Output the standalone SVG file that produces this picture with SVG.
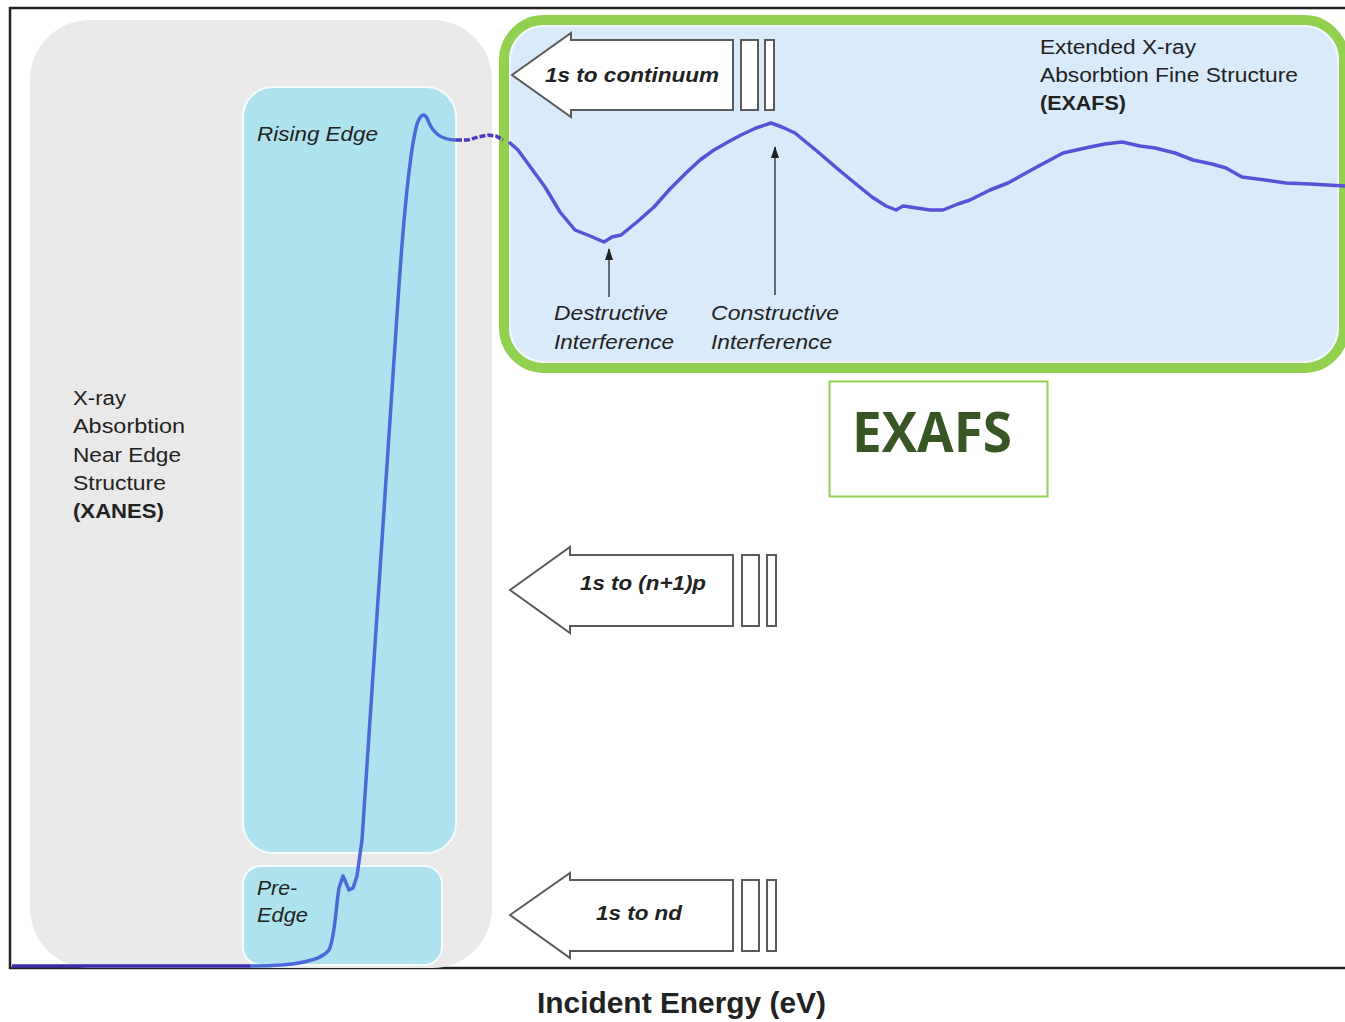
<svg xmlns="http://www.w3.org/2000/svg" width="1345" height="1022" viewBox="0 0 1345 1022">
<style>
.t{font-family:"Liberation Sans",Arial,sans-serif;font-size:20px;fill:#222}
.b{font-weight:bold}
.i{font-style:italic}
.arrow{fill:#fff;stroke:#5a5a5a;stroke-width:2}
.bar{fill:#fff;stroke:#5a5a5a;stroke-width:2}
.ptr{stroke:#222;stroke-width:1.3;fill:none}
</style>
<defs>
<marker id="ah" viewBox="0 0 12 8" refX="11" refY="4" markerWidth="12" markerHeight="8" markerUnits="userSpaceOnUse" orient="auto">
<path d="M0,0 L12,4 L0,8 Z" fill="#222"/>
</marker>
</defs>
<rect width="1345" height="1022" fill="#fff"/>
<g id="frame">
<path d="M1345,8 L10,8 L10,968 L1345,968" fill="none" stroke="#222" stroke-width="2.5"/>
</g>
<g id="xanes-region">
<rect x="30" y="20" width="462" height="948" rx="60" fill="#e9e9e9"/>
<text class="t" x="73" y="405" textLength="53" lengthAdjust="spacingAndGlyphs">X-ray</text>
<text class="t" x="73" y="433" textLength="112" lengthAdjust="spacingAndGlyphs">Absorbtion</text>
<text class="t" x="73" y="462" textLength="108" lengthAdjust="spacingAndGlyphs">Near Edge</text>
<text class="t" x="73" y="490" textLength="93" lengthAdjust="spacingAndGlyphs">Structure</text>
<text class="t b" x="73" y="518" textLength="91" lengthAdjust="spacingAndGlyphs">(XANES)</text>
</g>
<g id="rising-edge">
<rect x="243" y="87" width="213" height="766" rx="30" fill="#ade2ee" stroke="#f4fbfd" stroke-width="2"/>
<text class="t i" x="257" y="141" textLength="121" lengthAdjust="spacingAndGlyphs">Rising Edge</text>
</g>
<g id="pre-edge">
<rect x="243" y="866" width="199" height="99" rx="18" fill="#ade2ee" stroke="#f4fbfd" stroke-width="2"/>
<text class="t i" x="257" y="895" textLength="40" lengthAdjust="spacingAndGlyphs">Pre-</text>
<text class="t i" x="257" y="922" textLength="51" lengthAdjust="spacingAndGlyphs">Edge</text>
</g>
<g id="exafs-region">
<rect x="504" y="20" width="840" height="348" rx="40" fill="#d9eafa" stroke="#92d050" stroke-width="10"/>
<rect x="510" y="26" width="828" height="336" rx="34" fill="none" stroke="#f2f8fd" stroke-width="2"/>
<text class="t" x="1040" y="54" textLength="156" lengthAdjust="spacingAndGlyphs">Extended X-ray</text>
<text class="t" x="1040" y="82" textLength="258" lengthAdjust="spacingAndGlyphs">Absorbtion Fine Structure</text>
<text class="t b" x="1040" y="110" textLength="86" lengthAdjust="spacingAndGlyphs">(EXAFS)</text>
<text class="t i" x="554" y="320" textLength="114" lengthAdjust="spacingAndGlyphs">Destructive</text>
<text class="t i" x="554" y="349" textLength="120" lengthAdjust="spacingAndGlyphs">Interference</text>
<text class="t i" x="711" y="320" textLength="128" lengthAdjust="spacingAndGlyphs">Constructive</text>
<text class="t i" x="711" y="349" textLength="121" lengthAdjust="spacingAndGlyphs">Interference</text>
</g>
<g id="curves">
<path d="M12,966 L250,966" fill="none" stroke="#3b2ea8" stroke-width="3.5"/>
<path d="M250,966 C292,966 320,962 329,950 C335,938 336,905 339,888 L343,876 L349,890 L353,888 L357,876 L362,840 L398,300 C404,210 410,150 417,124 Q422,110 427,118 C432,132 440,140 456,140" fill="none" stroke="#4a6ad8" stroke-width="3.5" stroke-linejoin="round"/>
<path d="M456,140 L468,140 L478,137 L488,135 L496,136 L503,140" fill="none" stroke="#4b3cc0" stroke-width="3.5" stroke-dasharray="6,2"/>
<path d="M509,142 L518,150 L545,187 L560,212 L575,230 L590,236 L604,242 L612,237 L621,235 L637,222 L654,207 L670,189 L686,173 L700,160 L714,150 L728,142 L741,135 L756,128 L771,123 L782,127 L795,133 L818,152 L839,170 L856,184 L872,197 L886,206 L896,210 L903,206 L910,207 L930,210 L943,210 L958,204 L970,200 L990,190 L1008,183 L1035,168 L1063,153 L1090,147 L1105,144 L1122,142 L1140,146 L1155,148 L1175,153 L1193,160 L1212,164 L1226,168 L1242,177 L1265,180 L1286,183 L1310,184 L1345,186" fill="none" stroke="#5a52d6" stroke-width="3.5" stroke-linejoin="round"/>
</g>
<g id="arrow-continuum">
<polygon class="arrow" points="512,75 571,33 571,40 733,40 733,110 571,110 571,117"/>
<rect class="bar" x="741" y="40" width="17" height="70"/>
<rect class="bar" x="765" y="40" width="9" height="70"/>
<text class="t b i" x="545" y="82" textLength="174" lengthAdjust="spacingAndGlyphs">1s to continuum</text>
</g>
<g id="arrow-np">
<polygon class="arrow" points="510,590 570,547 570,555 733,555 733,626 570,626 570,633"/>
<rect class="bar" x="742" y="555" width="17" height="71"/>
<rect class="bar" x="767" y="555" width="9" height="71"/>
<text class="t b i" x="580" y="590" textLength="126" lengthAdjust="spacingAndGlyphs">1s to (n+1)p</text>
</g>
<g id="arrow-nd">
<polygon class="arrow" points="510,915 570,873 570,880 733,880 733,951 570,951 570,958"/>
<rect class="bar" x="742" y="880" width="17" height="71"/>
<rect class="bar" x="767" y="880" width="9" height="71"/>
<text class="t b i" x="596" y="920" textLength="86" lengthAdjust="spacingAndGlyphs">1s to nd</text>
</g>
<g id="connectors">
<line class="ptr" x1="609" y1="297" x2="609" y2="249" marker-end="url(#ah)"/>
<line class="ptr" x1="775" y1="295" x2="775" y2="147" marker-end="url(#ah)"/>
</g>
<g id="exafs-label">
<rect x="829.5" y="381.5" width="218" height="115" fill="#fff" stroke="#92d050" stroke-width="2"/>
<text x="852" y="452" font-family="'Open Sans','Noto Sans',sans-serif" font-weight="bold" font-size="56" fill="#375623" textLength="160" lengthAdjust="spacingAndGlyphs">EXAFS</text>
</g>
<g id="axis-label">
<text class="t b" x="537" y="1013" style="font-size:29px" textLength="289" lengthAdjust="spacingAndGlyphs">Incident Energy (eV)</text>
</g>
</svg>
